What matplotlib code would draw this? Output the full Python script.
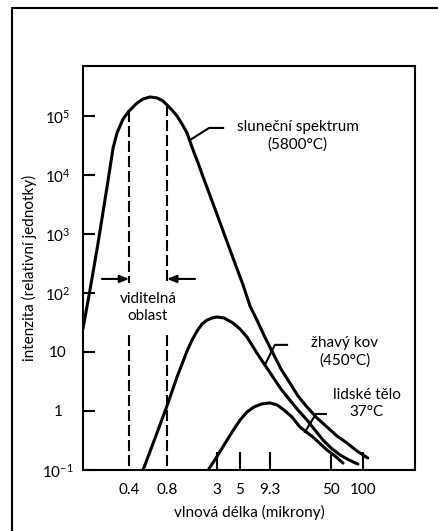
import numpy as np
import matplotlib
matplotlib.use('Agg')
import matplotlib.pyplot as plt
from matplotlib.ticker import FixedLocator, FixedFormatter, NullFormatter

plt.rcParams['font.family'] = ['Lato', 'DejaVu Sans']
plt.rcParams['font.size'] = 11

# ---- data (wavelength in micron, relative intensity) ----
sun_um = [0.173, 0.1963, 0.2234, 0.249, 0.273, 0.2988, 0.321, 0.358, 0.40,
          0.463, 0.516, 0.586, 0.667, 0.743, 0.80, 0.913, 1.042, 1.189, 1.358,
          1.590, 1.815, 2.072, 2.84, 4.00, 5.32, 6.15, 7.10, 8.37, 10.1, 12.6,
          16.1, 20.1, 25.8, 34.0, 44.8, 56.9, 70.8, 87.9, 111]
sun_int = [25, 112, 557, 2360, 8220, 2.87e4, 5.15e4, 8.89e4, 1.22e5,
           1.66e5, 1.94e5, 2.10e5, 2.02e5, 1.80e5, 1.54e5, 1.26e5, 1.0e5,
           7.31e4, 5.15e4, 2.65e4, 1.60e4, 9250, 2650, 536, 137, 60.3, 34.8,
           17.9, 9.6, 5.15, 2.99, 1.80, 1.17, 0.760, 0.536, 0.377, 0.287,
           0.210, 0.160]

metal_um = [0.516, 0.643, 0.717, 0.80, 1.042, 1.358, 1.549, 1.768, 2.02, 2.30,
            2.63, 3.0, 3.50, 4.27, 5.0, 5.78, 7.10, 8.37, 10.1, 12.6, 16.1,
            20.1, 25.8, 32.1, 40.1, 50, 60.8, 73.8, 89.8]
metal_int = [0.1, 0.348, 0.652, 1.22, 3.77, 10.4, 16.0, 22.7, 29.9, 34.8,
             37.7, 39.2, 37.7, 31.0, 24.5, 17.9, 9.6, 6.03, 3.77, 2.36, 1.53,
             1.04, 0.703, 0.476, 0.322, 0.236, 0.180, 0.148, 0.126]

body_um = [2.37, 2.92, 3.50, 4.19, 5.0, 5.78, 6.68, 7.87, 9.3, 11.3, 13.7,
           17.1, 21.2, 30.4, 44.8, 54.6, 64.9]
body_int = [0.1, 0.160, 0.265, 0.441, 0.703, 0.962, 1.17, 1.32, 1.37, 1.27,
            1.04, 0.791, 0.536, 0.362, 0.218, 0.173, 0.131]

# visible band
vis_um = [0.4, 0.8]
vis_top = [1.22e5, 1.54e5]

x_ticks = [0.4, 0.8, 3, 5, 9.3, 50, 100]
x_labels = ['0.4', '0.8', '3', '5', '9.3', '50', '100']
x_marks = [3, 5, 9.3, 50, 100]
y_ticks = [0.1, 1, 10, 1e2, 1e3, 1e4, 1e5]
y_labels = [r'$\mathregular{10^{-1}}$', '1', '10', r'$\mathregular{10^{2}}$',
            r'$\mathregular{10^{3}}$', r'$\mathregular{10^{4}}$',
            r'$\mathregular{10^{5}}$']

# the hand-drawn wavelength axis is not evenly logarithmic
x_anchor_um = [0.173, 0.4, 0.8, 3, 5, 9.3, 50, 100, 309]
x_anchor_pos = [0.0, 0.139, 0.253, 0.404, 0.473, 0.563, 0.747, 0.843, 1.0]
anc_log = np.log10(x_anchor_um)


def fwd(x):
    x = np.clip(np.asarray(x, dtype=float), 1e-9, None)
    return np.interp(np.log10(x), anc_log, x_anchor_pos)


def inv(p):
    return 10 ** np.interp(np.asarray(p, dtype=float), x_anchor_pos, anc_log)


fig = plt.figure(figsize=(4.38, 5.31), dpi=100)
ax = fig.add_axes([83/438, 1-470/531, 332/438, 404/531])
ax.set_xscale('function', functions=(fwd, inv))
ax.set_yscale('log')
ax.set_xlim(0.173, 309)
ax.set_ylim(0.1, 10**5.847)

lw = 2.2
for xs, ys in ((sun_um, sun_int), (metal_um, metal_int), (body_um, body_int)):
    ax.plot(xs, ys, color='k', lw=lw, solid_capstyle='round',
            solid_joinstyle='round')

# dashed limits of the visible band, broken where the label sits
for xv, top in zip(vis_um, vis_top):
    ax.plot([xv, xv], [top, 148], color='k', lw=1.5, dashes=(5.3, 1.9))
    ax.plot([xv, xv], [19.4, 0.1], color='k', lw=1.5, dashes=(5.3, 1.9))

arw = dict(arrowstyle='-|>,head_length=0.55,head_width=0.22', color='k', lw=1.5,
           shrinkA=0, shrinkB=0, mutation_scale=10)
ax.annotate('', xy=(0.4, 173), xytext=(0.244, 173), arrowprops=arw)
ax.annotate('', xy=(0.8, 173), xytext=(1.675, 173), arrowprops=arw)
ax.text(0.565, 56.8, 'viditelná\noblast', ha='center', va='center',
        linespacing=1.25)

# leaders to the curve labels
leader_sun = ([1.47, 2.43, 3.43], [3.92e4, 6.27e4, 6.27e4])
leader_metal = ([8.37, 10.66, 14.9], [6.03, 13.2, 13.2])
leader_body = ([24.4, 33.0, 43.5], [0.44, 0.89, 0.89])
for lx, ly in (leader_sun, leader_metal, leader_body):
    ax.plot(lx, ly, color='k', lw=1.5)

ax.text(20.1, 4.67e4, 'sluneční spektrum\n(5800°C)', ha='center', va='center',
        linespacing=1.3)
ax.text(67.8, 10, 'žhavý kov\n(450°C)', ha='center', va='center',
        linespacing=1.3)
ax.text(109, 1.34, 'lidské tělo\n37°C', ha='center', va='center',
        linespacing=1.3)

# axes and ticks
for s in ax.spines.values():
    s.set_linewidth(1.5)
ax.xaxis.remove_overlapping_locs = False
ax.xaxis.set_major_locator(FixedLocator(x_ticks))
ax.xaxis.set_major_formatter(FixedFormatter(x_labels))
ax.xaxis.set_minor_locator(FixedLocator(x_marks))
ax.xaxis.set_minor_formatter(NullFormatter())
ax.tick_params(axis='x', which='major', length=0, pad=9, labelsize=11)
ax.tick_params(axis='x', which='minor', direction='in', length=13, width=1.5)

ax.yaxis.set_major_locator(FixedLocator(y_ticks))
ax.yaxis.set_major_formatter(FixedFormatter(y_labels))
ax.yaxis.set_minor_locator(FixedLocator([]))
ax.tick_params(axis='y', which='major', direction='in', length=8.6, width=1.5,
               pad=18, labelsize=11)
for t in ax.get_yticklabels():
    t.set_horizontalalignment('center')

ax.set_xlabel('vlnová délka (mikrony)', fontsize=11, labelpad=6)
ax.set_ylabel('intenzita (relativní jednotky)', fontsize=11, labelpad=4)

# outer frame running off the right and bottom of the picture
fig.add_artist(plt.Rectangle((12/438, -0.1), 1.2, 1 - 8/531 + 0.1,
                             transform=fig.transFigure, fill=False,
                             lw=1.5, ec='k'))

fig.savefig('out.png', dpi=100)
